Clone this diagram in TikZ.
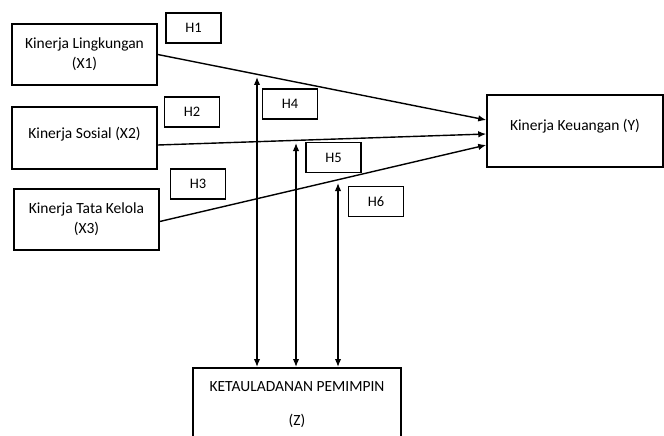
\documentclass[tikz,border=0pt]{standalone}
\usepackage{fontspec}
\setmainfont{Carlito}
\usepackage{tikz}
\usetikzlibrary{calc, arrows.meta}

\tikzset{
    varbox/.style={draw, line width=1.5pt, align=center, inner sep=0pt, font=\fontsize{15.5}{20}\selectfont},
    hypbox/.style={draw, line width=1.5pt, minimum width=55pt, minimum height=30pt, inner sep=0pt, font=\fontsize{14.5}{16}\selectfont},
    link/.style={line width=1.4pt, >={Latex[length=8pt, width=6.5pt]}},
}

\begin{document}
\begin{tikzpicture}[x=1pt, y=-1pt]
        \clip (0,0) rectangle (664,436);
        \fill[white] (0,0) rectangle (664,436);

        % variables
        \node[varbox, minimum width=145pt, minimum height=61pt] (X1) at (84.5, 54.5) {Kinerja Lingkungan\\(X1)};
        \node[varbox, minimum width=145pt, minimum height=62pt, text depth=10pt] (X2) at (84.5, 138) {Kinerja Sosial (X2)};
        \node[varbox, minimum width=145pt, minimum height=61pt] (X3) at (86.5, 219.5) {Kinerja Tata Kelola\\(X3)};
        \node[varbox, minimum width=176pt, minimum height=72pt, text depth=12pt] (Y) at (575, 131) {Kinerja Keuangan (Y)};
        \node[varbox, anchor=north, minimum width=208pt, minimum height=74pt] (Z) at (297, 367) {KETAULADANAN PEMIMPIN\\[14pt](Z)};

        % hypotheses
        \node[hypbox] (H1) at (193.5, 28) {H1};
        \node[hypbox] (H2) at (192, 112) {H2};
        \node[hypbox] (H3) at (198, 184) {H3};
        \node[hypbox] (H4) at (290, 104) {H4};
        \node[hypbox] (H5) at (333.5, 157.5) {H5};
        \node[hypbox] (H6) at (376, 201.5) {H6};

        % direct effects
        \draw[link, ->] (X1.east) -- ([yshift=11pt]Y.west);
        \draw[link, ->] ([yshift=-7pt]X2.east) -- ([yshift=-3pt]Y.west);
        \draw[link, ->] ([yshift=-2pt]X3.east) -- ([yshift=-14pt]Y.west);

        % moderation
        \coordinate (m1) at (257, 77);
        \coordinate (m2) at (296, 143);
        \coordinate (m3) at (338, 183);
        \draw[link, <->] (m1) -- (m1 |- Z.north);
        \draw[link, <->] (m2) -- (m2 |- Z.north);
        \draw[link, <->] (m3) -- (m3 |- Z.north);
    \end{tikzpicture}
\end{document}
